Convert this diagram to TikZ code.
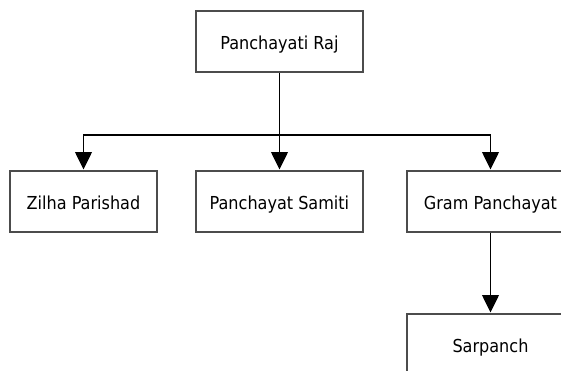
\documentclass[tikz,border=0pt]{standalone}
\usepackage{fontspec}
\setmainfont{DejaVu Sans Condensed}
\usetikzlibrary{arrows.meta}

\tikzset{
  box/.style={draw=black!70, line width=1.5pt, fill=white, minimum width=125.25pt, minimum height=45.75pt,
    inner sep=0pt, text height=12.5pt, text depth=0pt, font=\fontsize{13.4}{16}\selectfont},
  link/.style={line width=1.1pt, -{Triangle[width=12.5pt,length=13pt]}}
}

\begin{document}
\begin{tikzpicture}[x=0.75pt,y=-0.75pt]
\clip (0,0) rectangle (561,371);
\fill[white] (0,0) rectangle (561,371);

\node[box] (raj) at (279.5,41.5) {Panchayati Raj};
\node[box, minimum width=110.25pt] (zilha) at (83.5,201) {Zilha Parishad};
\node[box] (samiti) at (279.5,201) {Panchayat Samiti};
\node[box] (gram) at (490.5,201) {Gram Panchayat};
\node[box] (sarpanch) at (490.5,344) {Sarpanch};

\coordinate (bus) at (279.5,135);

\draw [line width=1.1pt] (raj) -- (bus);
\draw [link] (bus) -| (zilha);
\draw [link] (bus) -- (samiti);
\draw [link] (bus) -| (gram);
\draw [link] (gram) -- (sarpanch);

\end{tikzpicture}
\end{document}
